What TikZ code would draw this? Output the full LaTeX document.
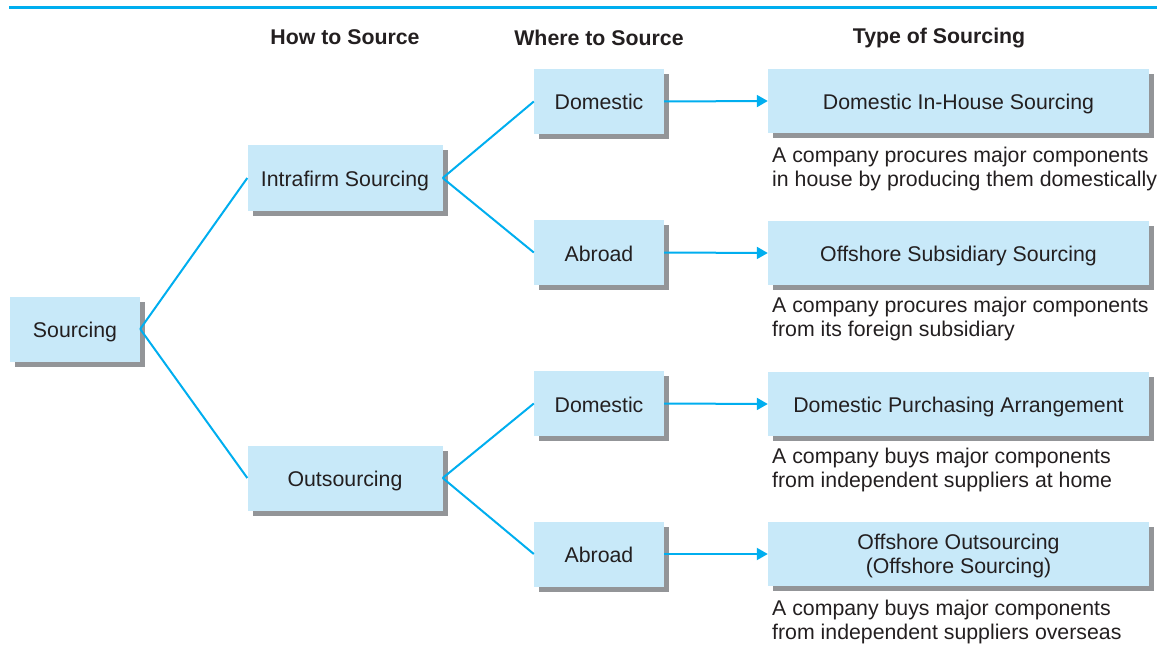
\documentclass[tikz,border=0pt]{standalone}
\usepackage{fontspec}
\setmainfont{Liberation Sans}
\usepackage{xcolor}
\usetikzlibrary{arrows.meta,shadows}

\definecolor{boxblue}{HTML}{C8E9F9}
\definecolor{linecyan}{HTML}{00AEEF}
\definecolor{shadowgray}{HTML}{939598}
\definecolor{inkgray}{HTML}{231F20}

\begin{document}
\begin{tikzpicture}[x=1pt,y=-1pt,
        font=\fontsize{21.3}{24}\selectfont, text=inkgray,
        box/.style={fill=boxblue, inner sep=0pt, align=center,
            drop shadow={shadow xshift=5pt,shadow yshift=-5pt,fill=shadowgray,opacity=1}},
        linebox/.style={box, text height=17pt, text depth=0pt},
        branch/.style={draw=linecyan, line width=2pt},
        link/.style={draw=linecyan, line width=2pt, -{Triangle[length=11pt,width=12pt]}}]
        \useasboundingbox (0,0) rectangle (1157,658);
        \draw [linecyan, line width=3pt] (9,8) -- (1157,8);

        % column headings
        \node [font=\fontsize{21.3}{24}\selectfont\bfseries] (howhead) at (345,37) {How to Source};
        \node [font=\fontsize{21.3}{24}\selectfont\bfseries] (wherehead) at (599,38) {Where to Source};
        \node [font=\fontsize{21.3}{24}\selectfont\bfseries] (typehead) at (939,38) {Type of Sourcing};

        % boxes
        \node [linebox, minimum width=130pt, minimum height=65pt] (src) at (75,329) {Sourcing};
        \node [linebox, minimum width=195pt, minimum height=65pt] (intra) at (345,178) {Intrafirm Sourcing};
        \node [linebox, minimum width=195pt, minimum height=65pt] (outs) at (345,478) {Outsourcing};

        \node [linebox, minimum width=130pt, minimum height=65pt] (domA) at (599,101.5) {Domestic};
        \node [linebox, minimum width=130pt, minimum height=65pt] (abrA) at (599,252.5) {Abroad};
        \node [linebox, minimum width=130pt, minimum height=65pt] (domB) at (599,403.5) {Domestic};
        \node [linebox, minimum width=130pt, minimum height=65pt] (abrB) at (599,554) {Abroad};

        \node [linebox, minimum width=381pt, minimum height=64pt] (inhouse) at (958.5,101) {Domestic In-House Sourcing};
        \node [linebox, minimum width=381pt, minimum height=64pt] (subsid) at (958.5,253) {Offshore Subsidiary Sourcing};
        \node [linebox, minimum width=381pt, minimum height=64pt] (purch) at (958.5,404) {Domestic Purchasing Arrangement};
        \node [box, text depth=-4pt, minimum width=381pt, minimum height=64pt] (offout) at (958.5,554) {Offshore Outsourcing\\(Offshore Sourcing)};

        % descriptions
        \node [anchor=west, align=left, inner sep=0pt] (inhousetxt) at (772,169) {A company procures major components\\in house by producing them domestically};
        \node [anchor=west, align=left, inner sep=0pt] (subsidtxt) at (772,319) {A company procures major components\\from its foreign subsidiary};
        \node [anchor=west, align=left, inner sep=0pt] (purchtxt) at (772,470) {A company buys major components\\from independent suppliers at home};
        \node [anchor=west, align=left, inner sep=0pt] (offouttxt) at (772,622) {A company buys major components\\from independent suppliers overseas};

        % branches
        \draw [branch] (src.east) -- (intra.west);
        \draw [branch] (src.east) -- (outs.west);
        \draw [branch] (intra.east) -- (domA.west);
        \draw [branch] (intra.east) -- (abrA.west);
        \draw [branch] (outs.east) -- (domB.west);
        \draw [branch] (outs.east) -- (abrB.west);

        \draw [link] (domA.east) -- (inhouse.west);
        \draw [link] (abrA.east) -- (subsid.west);
        \draw [link] (domB.east) -- (purch.west);
        \draw [link] (abrB.east) -- (offout.west);
    \end{tikzpicture}
\end{document}
